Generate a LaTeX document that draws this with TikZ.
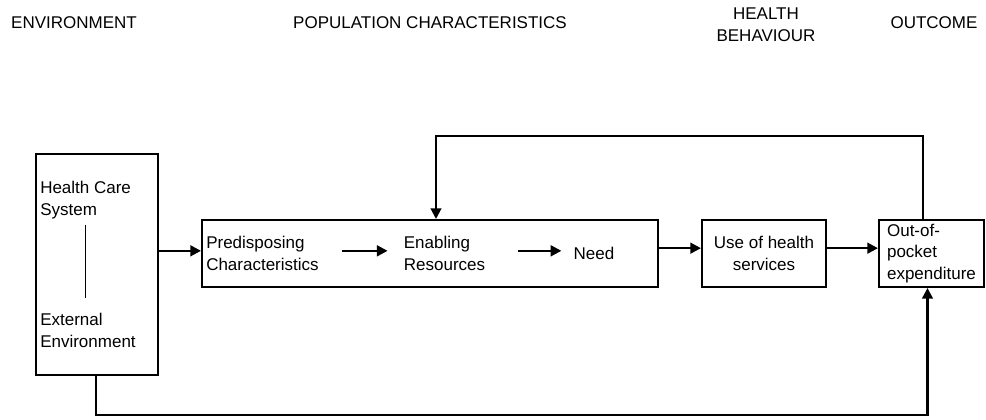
\documentclass[tikz,border=0pt]{standalone}
\usepackage{fontspec}
\setmainfont{Liberation Sans}
\usetikzlibrary{positioning, arrows.meta}
\tikzstyle{box} = [rectangle, draw=black, line width=1.5pt, inner sep=0pt, minimum height=50.25pt, font=\fontsize{12.75}{16.5}\selectfont]
\tikzstyle{txt} = [inner sep=0pt, align=left, font=\fontsize{12.75}{16.5}\selectfont]
\tikzstyle{arrow} = [line width=1.8pt, -{Triangle[length=8pt,width=8pt]}]
\tikzstyle{fbline} = [line width=1.5pt]

\begin{document}
\begin{tikzpicture}[x=0.75pt, y=-0.75pt, node distance=31.5pt]
    \useasboundingbox (0,0) rectangle (986,420);
    % Headings
    \node (henv) [txt] at (74,23) {ENVIRONMENT};
    \node (hpop) [txt] at (430,23) {POPULATION CHARACTERISTICS};
    \node (hbeh) [txt, align=center] at (766,25) {HEALTH\\BEHAVIOUR};
    \node (hout) [txt] at (934,23) {OUTCOME};

    % Boxes
    \node (env) [box, minimum width=91.5pt, minimum height=165.75pt] at (97,264.5) {};
    \node (pop) [box, minimum width=342pt, right=of env, yshift=8.25pt] {};
    \node (use) [box, minimum width=93pt, align=center, right=of pop] {Use of health\\services};
    \node (out) [box, minimum width=78.75pt, align=left, font=\fontsize{12.75}{16}\selectfont, right=38.25pt of use] {Out-of-\\pocket\\expenditure};

    % Texts in the boxes
    \node (hcs) [txt, anchor=west] at (40,200) {Health Care\\System};
    \node (ext) [txt, anchor=west] at (40,330.5) {External\\Environment};
    \node (pred) [txt, right=3.75pt of pop.west] {Predisposing\\Characteristics};
    \node (enab) [txt, right=63.5pt of pred] {Enabling\\Resources};
    \node (need) [txt, right=66pt of enab] {Need};
    \coordinate (pin) at ([yshift=2pt]pop.west);
    \coordinate (fbtop) at (436,136);
    \coordinate (fbbot) at (96,415);

    % Arrows
    \draw [line width=0.75pt, shorten <=4pt, shorten >=11pt] (hcs.south) -- (hcs.south |- ext.north);
    \draw [arrow] (pin -| env.east) -- (pin);
    \draw [arrow] ([xshift=17pt, yshift=2pt]pred.east) -- ([xshift=-12pt, yshift=2pt]enab.west);
    \draw [arrow] ([xshift=24.75pt, yshift=2pt]enab.east) -- ([xshift=-9pt, yshift=2pt]need.west);
    \draw [arrow] ([yshift=4pt]pop.east) -- ([yshift=4pt]use.west);
    \draw [arrow] ([yshift=4pt]use.east) -- ([yshift=4pt]out.west);
    \draw [arrow, fbline] ([xshift=-6.75pt]out.north) |- (fbtop) -- (fbtop |- pop.north);
    \draw [arrow] (env.south -| fbbot) -- (fbbot) -| ([xshift=-3pt]out.south);

\end{tikzpicture}
\end{document}
